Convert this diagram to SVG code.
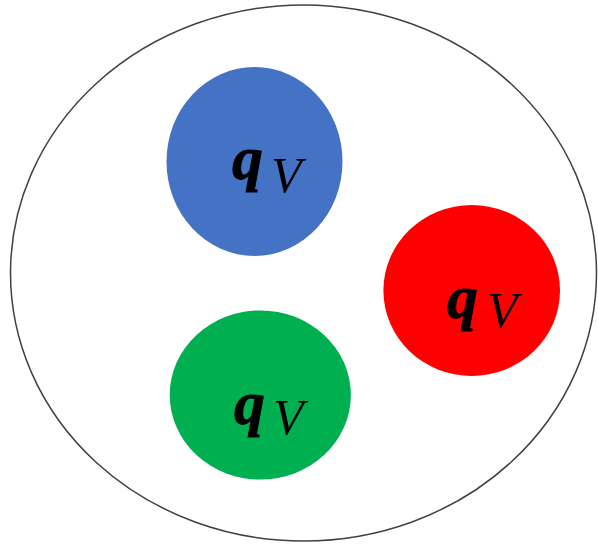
<svg xmlns="http://www.w3.org/2000/svg" width="598" height="545" viewBox="0 0 598 545">
<style>
.q{font-family:"Liberation Serif","DejaVu Serif",serif;font-weight:bold;font-style:italic;font-size:62px;fill:#000;stroke:#000;stroke-width:0.8}
.v{font-family:"Liberation Serif","DejaVu Serif",serif;font-style:italic;font-size:50px;fill:#000}
</style>
<rect width="598" height="545" fill="#fff"/>
<g id="hadron"><ellipse cx="303.5" cy="273" rx="293" ry="268" fill="#fff" stroke="#404040" stroke-width="1.5"/></g>
<g id="quark-blue">
<ellipse cx="254.5" cy="161.5" rx="88" ry="94.5" fill="#4472C4"/>
<text class="q" x="232" y="179">q</text><text class="v" x="271" y="192">V</text>
</g>
<g id="quark-red">
<ellipse cx="471.7" cy="290.5" rx="88.3" ry="85.5" fill="#FF0000"/>
<text class="q" x="447" y="318">q</text><text class="v" x="487" y="327">V</text>
</g>
<g id="quark-green">
<ellipse cx="260.3" cy="395" rx="90.6" ry="84.6" fill="#00B050"/>
<text class="q" x="234" y="424">q</text><text class="v" x="273" y="434">V</text>
</g>
<g id="connectors"/>
</svg>
